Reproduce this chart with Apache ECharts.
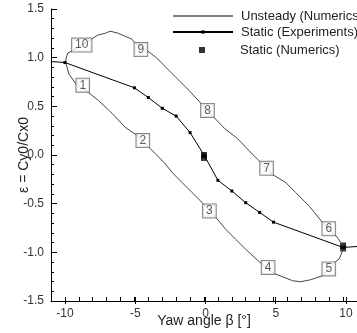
<!DOCTYPE html>
<html>
<head>
<meta charset="utf-8">
<script src="https://cdn.jsdelivr.net/npm/echarts@6/dist/echarts.min.js"></script>
<style>
  html, body { margin: 0; padding: 0; background: #fff; }
  #chart { width: 357px; height: 333px; }
</style>
</head>
<body>
<div id="chart"></div>
<script>
// hysteresis loop, unsteady numerics (in loop order)
var loopBeta = [-9.93, -9.72, -9.22, -8.30, -7.59, -6.60, -5.67, -4.82, -3.97, -3.55, -2.84, -2.27, -1.56, -0.85, -0.14,
  0.85, 1.56, 2.27, 2.98, 3.90, 5.11, 6.38, 6.95, 7.66, 8.51, 9.43, 9.72, 9.93, 10.0,
  9.57, 8.51, 7.59, 6.60, 5.89, 4.96, 4.04, 3.19, 2.40, 1.50, 0.71, -0.21, -1.06, -1.99, -2.70, -3.40, -4.04,
  -4.96, -5.18, -5.53, -6.17, -6.74, -7.09, -7.66, -8.09, -9.50, -9.79, -9.93, -9.93];
var loopEps = [0.946, 0.834, 0.732, 0.641, 0.560, 0.427, 0.285, 0.203, 0.081, 0.020, -0.081, -0.183, -0.285, -0.387, -0.488,
  -0.641, -0.763, -0.865, -0.966, -1.088, -1.221, -1.292, -1.302, -1.282, -1.241, -1.099, -1.068, -0.997, -0.936,
  -0.844, -0.692, -0.529, -0.387, -0.285, -0.203, -0.071, 0.051, 0.170, 0.270, 0.387, 0.529, 0.661, 0.793, 0.895, 0.997, 1.068,
  1.150, 1.190, 1.211, 1.251, 1.272, 1.251, 1.231, 1.190, 1.068, 1.048, 0.987, 0.946];

// static experiments
var expBeta = [-11, -10, -5, -4, -3, -2, -1, 0, 1, 2, 3, 4, 5, 10, 11];
var expEps = [0.96, 0.95, 0.69, 0.59, 0.48, 0.40, 0.23, 0.0, -0.26, -0.37, -0.49, -0.59, -0.69, -0.95, -0.94];

// static numerics
var numBeta = [0, 0, 10, 10];
var numEps = [0.0, -0.03, -0.93, -0.96];

// numbered markers along the loop
var markText = ['1', '2', '3', '4', '5', '6', '7', '8', '9', '10'];
var markBeta = [-8.72, -4.40, 0.39, 4.61, 8.97, 8.97, 4.50, 0.25, -4.54, -8.79];
var markEps = [0.717, 0.148, -0.575, -1.155, -1.170, -0.758, -0.137, 0.458, 1.083, 1.129];

var xTicksMajor = [-10, -5, 0, 5, 10];

function pairs(xs, ys) {
  return xs.map(function (x, i) { return [x, ys[i]]; });
}

var font = 'Liberation Sans, Arial, sans-serif';
var myChart = echarts.init(document.getElementById('chart'));

var expData = pairs(expBeta, expEps).map(function (p, i) {
  // the two outer points only carry the line to the frame
  if (i === 0 || i === expBeta.length - 1) return { value: p, symbol: 'none' };
  return p;
});

var markData = markBeta.map(function (b, i) {
  return { value: [b, markEps[i]], name: markText[i] };
});

myChart.setOption({
  animation: false,
  textStyle: { fontFamily: font },
  grid: [
    { left: 51, width: 309, top: 9, bottom: 29 },
    // second grid only for the long ticks and labels at -10..10
    { left: 51 + 309 / 22, width: 309 * 20 / 22, top: 9, bottom: 29 }
  ],
  legend: [
    {
      data: [
        { name: 'Unsteady (Numerics)', icon: 'path://M0,0H60V1H0Z', itemStyle: { color: '#000' } },
        'Static (Experiments)'
      ],
      orient: 'vertical', left: 172, top: 8, padding: 0,
      itemWidth: 60, itemHeight: 4, itemGap: 0, selectedMode: false,
      textStyle: { fontSize: 13, color: '#222', lineHeight: 16, padding: [0, 0, 0, 3] }
    },
    {
      data: [{ name: 'Static (Numerics)', icon: 'rect' }],
      orient: 'vertical', left: 199, top: 42, padding: 0,
      itemWidth: 6, itemHeight: 6, selectedMode: false,
      textStyle: { fontSize: 13, color: '#222', lineHeight: 16, padding: [0, 0, 0, 30] }
    }
  ],
  xAxis: [
    {
      type: 'value', gridIndex: 0, min: -11, max: 11, interval: 1,
      axisLine: { onZero: false, lineStyle: { color: '#000', width: 1 } },
      axisTick: { inside: true, length: 4, lineStyle: { color: '#000' } },
      axisLabel: { show: false },
      splitLine: { show: false },
      name: 'Yaw angle β [°]', nameLocation: 'middle', nameGap: 13,
      nameTextStyle: { fontSize: 14, color: '#222' }
    },
    {
      type: 'value', gridIndex: 1, min: xTicksMajor[0], max: xTicksMajor[xTicksMajor.length - 1], interval: 5,
      axisLine: { show: false, onZero: false },
      axisTick: { inside: true, length: 7, lineStyle: { color: '#000' } },
      axisLabel: { fontSize: 12, color: '#333', margin: 4 },
      splitLine: { show: false }
    }
  ],
  yAxis: [
    {
      type: 'value', gridIndex: 0, min: -1.5, max: 1.5, interval: 0.5,
      axisLine: { show: true, onZero: false, lineStyle: { color: '#000', width: 1 } },
      axisTick: { inside: true, length: 6, lineStyle: { color: '#000' } },
      minorTick: { show: true, splitNumber: 5, length: 3, lineStyle: { color: '#000' } },
      axisLabel: { fontSize: 12, color: '#333', margin: 7, formatter: function (v) { return v.toFixed(1); } },
      splitLine: { show: false },
      name: 'ε = Cy0/Cx0', nameLocation: 'middle', nameGap: 20, nameMoveOverlap: false,
      nameTextStyle: { fontSize: 14, color: '#222' }
    },
    { type: 'value', gridIndex: 1, min: -1.5, max: 1.5, show: false }
  ],
  series: [
    {
      name: 'Unsteady (Numerics)', type: 'line', xAxisIndex: 0, yAxisIndex: 0,
      data: pairs(loopBeta, loopEps), symbol: 'none', silent: true,
      lineStyle: { color: '#444', width: 1 }, itemStyle: { color: '#000' }
    },
    {
      name: 'Static (Experiments)', type: 'line', xAxisIndex: 0, yAxisIndex: 0,
      data: expData, symbol: 'rect', symbolSize: 3, silent: true,
      lineStyle: { color: '#000', width: 1 }, itemStyle: { color: '#000' }
    },
    {
      name: 'Static (Numerics)', type: 'scatter', xAxisIndex: 0, yAxisIndex: 0,
      data: pairs(numBeta, numEps), symbol: 'rect', symbolSize: 6, silent: true,
      itemStyle: { color: '#000' }
    },
    {
      name: 'marks', type: 'scatter', xAxisIndex: 0, yAxisIndex: 0, z: 10,
      data: markData, symbol: 'rect', symbolSize: 1, silent: true,
      itemStyle: { color: 'transparent' },
      label: {
        show: true, position: 'inside', formatter: '{b}',
        fontSize: 12, color: '#333', backgroundColor: '#fff',
        borderColor: '#666', borderWidth: 1, padding: [1, 3, 0, 3]
      }
    }
  ]
});
</script>
</body>
</html>
